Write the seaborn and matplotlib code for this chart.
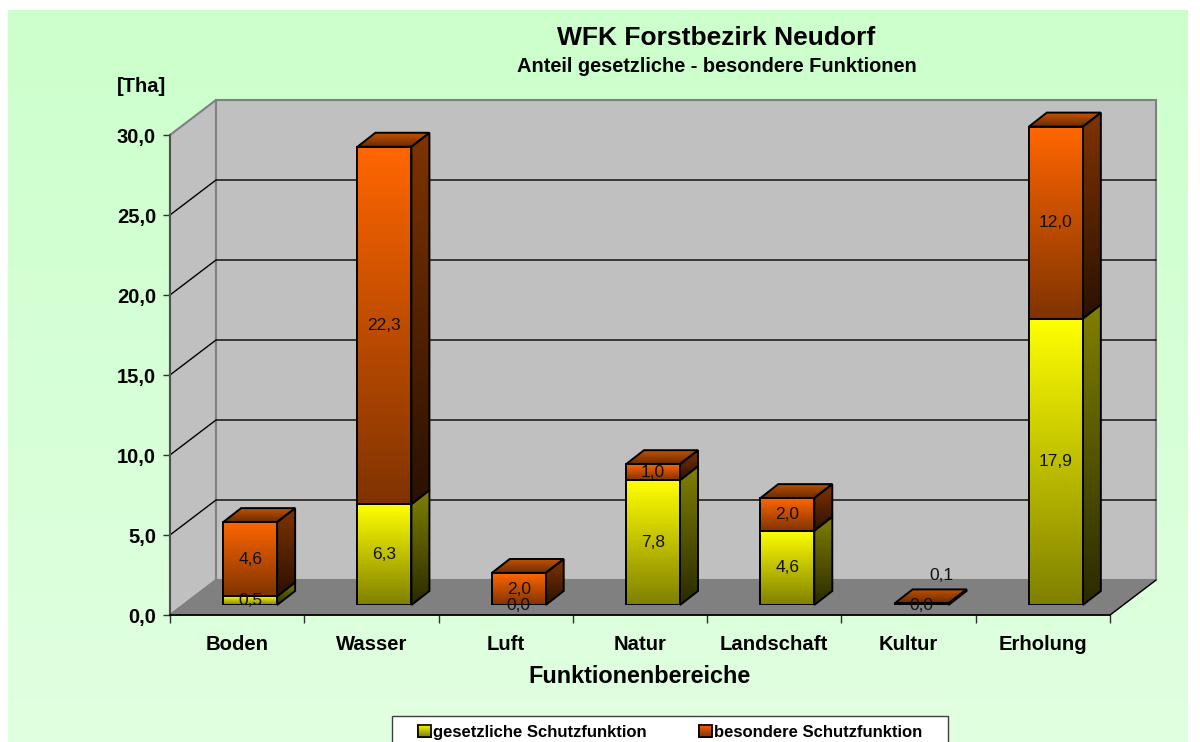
import numpy as np
import pandas as pd
import seaborn as sns
import matplotlib.pyplot as plt
from matplotlib.colors import to_rgb
from matplotlib.patches import Patch, Polygon, Rectangle

funktionen = ["Boden", "Wasser", "Luft", "Natur", "Landschaft", "Kultur", "Erholung"]
gesetzlich = [0.54, 6.3, 0.0, 7.8, 4.64, 0.0, 17.9]
besondere = [4.64, 22.34, 2.0, 1.0, 2.04, 0.1, 12.0]
y_ticks = [0, 5, 10, 15, 20, 25, 30]

df = pd.DataFrame({"Funktion": funktionen, "gesetzlich": gesetzlich, "besondere": besondere})

sns.set_theme(style="white")
plt.rcParams["font.family"] = ["Liberation Sans", "DejaVu Sans"]

W, H = 1200, 742
DEPTH = (46, 35)  # wall depth in px
BAR_SHIFT = (13, -10)  # front of the bars vs. front of the floor
BAR_DEPTH = (18, 14)

fig = plt.figure(figsize=(12, 7.42), dpi=100, facecolor="white")


def comma(v):
    return f"{v:.1f}".replace(".", ",")


def grad(top, bottom, n=64):
    t = np.linspace(0, 1, n)[:, None, None]
    return (1 - t) * np.array(to_rgb(top))[None, None, :] + t * np.array(to_rgb(bottom))[None, None, :]


def pixel_axes(zorder):
    a = fig.add_axes([0, 0, 1, 1], zorder=zorder)
    a.set_xlim(0, W)
    a.set_ylim(0, H)
    a.set_autoscale_on(False)
    a.set_axis_off()
    return a


def grad_poly(a, pts, top, bottom):
    pts = np.array(pts)
    im = a.imshow(grad(top, bottom), aspect="auto", interpolation="bilinear",
                  extent=[pts[:, 0].min(), pts[:, 0].max(), pts[:, 1].min(), pts[:, 1].max()])
    im.set_clip_path(Polygon(pts, transform=a.transData))
    a.add_patch(Polygon(pts, facecolor="none", edgecolor="black", lw=1.4, joinstyle="miter"))


# light green chart area
bg = fig.add_axes([8 / W, 0, 1180 / W, 732 / H], zorder=0)
bg.imshow(grad("#CCFFCC", "#E0FFE0"), aspect="auto", interpolation="bilinear")
bg.set_axis_off()

walls = pixel_axes(1)

# front plane: categories and values
ax = fig.add_axes([170 / W, (H - 615) / H, 940 / W, 480 / H], zorder=2)
ax.patch.set_alpha(0)
ax.set_xlim(-0.5, 6.5)
ax.set_ylim(0, 30)
ax.set_xticks(np.arange(-0.5, 7))
ax.set_xticklabels([])
ax.set_xticks(np.arange(7), labels=funktionen, minor=True)
ax.set_yticks(y_ticks, labels=[comma(v) for v in y_ticks])
ax.tick_params(axis="x", which="major", bottom=True, length=6, width=1, color="#303030")
ax.tick_params(axis="x", which="minor", bottom=False, pad=10.5, labelsize=14.6)
ax.tick_params(axis="y", left=True, length=5, width=1, color="#303030", pad=5, labelsize=14.5)
for lab in ax.get_xticklabels(minor=True) + ax.get_yticklabels():
    lab.set_fontweight("bold")
    lab.set_color("black")
sns.despine(ax=ax, top=True, right=True)
ax.spines["bottom"].set_color("black")
ax.spines["left"].set_color("#505050")
ax.spines["left"].set_linewidth(1.5)
ax.set_xlabel("Funktionenbereiche", fontsize=16.8, fontweight="bold", color="black", labelpad=8)

# walls and floor follow from the front plane
(x0, y0), (x1, y1) = ax.transData.transform([(-0.5, 0), (6.5, 30)])
dx, dy = DEPTH
walls.add_patch(Polygon([(x0, y0), (x0 + dx, y0 + dy), (x0 + dx, y1 + dy), (x0, y1)], fc="#C0C0C0", ec="#808080", lw=1.5))
walls.add_patch(Polygon([(x0 + dx, y0 + dy), (x1 + dx, y0 + dy), (x1 + dx, y1 + dy), (x0 + dx, y1 + dy)], fc="#C0C0C0", ec="#808080", lw=1.5))
walls.add_patch(Polygon([(x0, y0), (x1, y0), (x1 + dx, y0 + dy), (x0 + dx, y0 + dy)], fc="#808080", ec="#808080", lw=1))
walls.plot([x1, x1 + dx], [y0, y0 + dy], color="black", lw=1)
for v in y_ticks[1:-1]:
    yy = ax.transData.transform((0, v))[1]
    walls.plot([x0, x0 + dx, x1 + dx], [yy, yy + dy, yy + dy], color="black", lw=1)

# bars, shifted a little into the room
faces = pixel_axes(3)
ax_bar = fig.add_axes([(170 + BAR_SHIFT[0]) / W, (H - 615 - BAR_SHIFT[1]) / H, 940 / W, 480 / H], zorder=4)
sns.barplot(data=df, x="Funktion", y="gesetzlich", color="#FFFF00", saturation=1, width=0.402, ax=ax_bar,
            edgecolor="black", linewidth=1.4, facecolor="none")
sns.barplot(data=df, x="Funktion", y="besondere", bottom=df["gesetzlich"], color="#FF6600", saturation=1, width=0.402,
            ax=ax_bar, edgecolor="black", linewidth=1.4, facecolor="none")
ax_bar.set_xlim(-0.5, 6.5)
ax_bar.set_ylim(0, 30)
ax_bar.set_autoscale_on(False)
ax_bar.set_axis_off()

styles = [(("#FFFF00", "#808000"), ("#808000", "#2A2A00")),
          (("#FF6600", "#803300"), ("#803300", "#2A1100"))]
bdx, bdy = BAR_DEPTH
for cont, (front_cols, side_cols) in zip(ax_bar.containers, styles):
    for p in cont.patches:
        h = p.get_height()
        if h <= 0:
            continue
        bx0, bx1 = p.get_x(), p.get_x() + p.get_width()
        by0, by1 = p.get_y(), p.get_y() + h
        ax_bar.imshow(grad(*front_cols), aspect="auto", interpolation="bilinear",
                      extent=[bx0, bx1, by0, by1], zorder=0.5)
        (px0, py0), (px1, py1) = ax_bar.transData.transform([(bx0, by0), (bx1, by1)])
        grad_poly(faces, [(px1, py0), (px1 + bdx, py0 + bdy), (px1 + bdx, py1 + bdy), (px1, py1)], *side_cols)

for p in ax_bar.containers[1].patches:
    (px0, _), (px1, py1) = ax_bar.transData.transform([(p.get_x(), 0), (p.get_x() + p.get_width(), p.get_y() + p.get_height())])
    grad_poly(faces, [(px0, py1), (px1, py1), (px1 + bdx, py1 + bdy), (px0 + bdx, py1 + bdy)], "#C25200", "#6A2B00")

ax_bar.bar_label(ax_bar.containers[0], labels=[comma(v) for v in gesetzlich], label_type="center",
                 fontsize=12.5, color="#101010")
top_labels = ax_bar.bar_label(ax_bar.containers[1], labels=[comma(v) for v in besondere], label_type="center",
                              fontsize=12.5, color="#101010")
top_labels[5].xyann = (14, 21)

# titles
fig.text(716 / W, (H - 38) / H, "WFK Forstbezirk Neudorf", ha="center", va="center", fontsize=19, fontweight="bold", color="black")
fig.text(717 / W, (H - 67) / H, "Anteil gesetzliche - besondere Funktionen", ha="center", va="center", fontsize=14.4, fontweight="bold", color="black")
fig.text(141 / W, (H - 86) / H, "[Tha]", ha="center", va="center", fontsize=14.5, fontweight="bold", color="black")

# legend box runs off the bottom of the picture like the original
front = pixel_axes(5)
front.add_patch(Rectangle((391.5, -10), 556, H - 716 + 10, fc="white", ec="#404040", lw=1))
handles = [Patch(facecolor="#FFFF00", edgecolor="black", lw=1.2), Patch(facecolor="#FF6600", edgecolor="black", lw=1.2)]
leg = front.legend(handles, ["gesetzliche Schutzfunktion", "besondere Schutzfunktion"], ncols=2, loc="center left",
                   bbox_to_anchor=(418, H - 732.5), bbox_transform=front.transData, borderaxespad=0, borderpad=0,
                   frameon=False, prop={"weight": "bold", "size": 12}, handlelength=0.79, handleheight=0.75,
                   handletextpad=0.12, columnspacing=3.15)
for t in leg.get_texts():
    t.set_color("black")

fig.canvas.draw()
swatches = pixel_axes(6)
for patch, (c_top, c_bot) in zip(leg.get_patches(), [s[0] for s in styles]):
    bb = patch.get_window_extent()
    swatches.imshow(grad(c_top, c_bot), aspect="auto", extent=[bb.x0, bb.x1, bb.y0, bb.y1])
    swatches.add_patch(Rectangle((bb.x0, bb.y0), bb.width, bb.height, fc="none", ec="black", lw=1.2))

fig.savefig("out.png", dpi=100)
